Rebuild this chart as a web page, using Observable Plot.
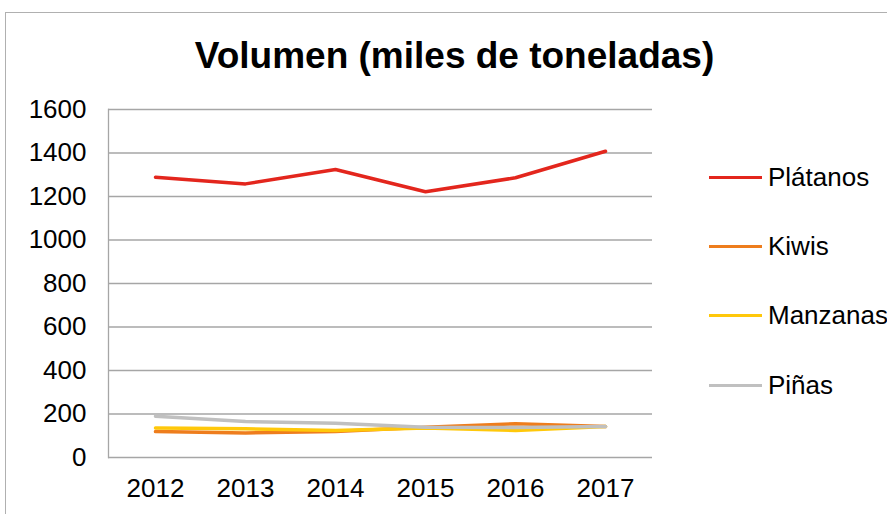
<!DOCTYPE html>
<html>
<head>
<meta charset="utf-8">
<script src="https://cdn.jsdelivr.net/npm/d3@7"></script>
<script src="https://cdn.jsdelivr.net/npm/@observablehq/plot@0.6"></script>
<style>
  html, body { margin: 0; padding: 0; background: #fff; }
  #wrap { position: relative; width: 887px; height: 514px; overflow: hidden; font-family: "Liberation Sans", Arial, sans-serif; }
  #border { position: absolute; left: 5px; top: 12px; width: 900px; height: 520px; border: 1px solid #b0b0b0; box-sizing: border-box; }
  #title { position: absolute; left: 0; top: 0; width: 909px; height: 90px; text-align: center; font-weight: bold; font-size: 37px; line-height: 37px; padding-top: 37px; box-sizing: border-box; color: #000; }
  #chart { position: absolute; left: 0; top: 90px; }
  #legend { position: absolute; left: 709px; top: 0; }
  .item { position: absolute; left: 0; height: 30px; width: 200px; }
  .swatch { position: absolute; left: 0; top: 14px; width: 53px; height: 3px; }
  .lab { position: absolute; left: 59px; top: 0; font-size: 26px; line-height: 30px; color: #000; white-space: nowrap; }
</style>
</head>
<body>
<div id="wrap">
  <div id="border"></div>
  <div id="title">Volumen (miles de toneladas)</div>
  <div id="chart"></div>
  <div id="legend"></div>
</div>
<script>
const years = ["2012", "2013", "2014", "2015", "2016", "2017"];
const seriesNames = ["Plátanos", "Kiwis", "Manzanas", "Piñas"];
const platanos = [1289, 1258, 1324, 1222, 1286, 1408];
const kiwis = [119, 113, 119, 139, 155, 142];
const manzanas = [136, 132, 124, 136, 124, 142];
const pinas = [190, 165, 158, 139, 138, 142];
const seriesColors = ["#e3261d", "#ee7d1d", "#ffc80a", "#c0c0c0"];
const yTicks = [0, 200, 400, 600, 800, 1000, 1200, 1400, 1600];

const allValues = [platanos, kiwis, manzanas, pinas];
const data = [];
seriesNames.forEach((s, i) => years.forEach((y, j) => data.push({series: s, year: y, value: allValues[i][j]})));

const chart = Plot.plot({
  width: 887,
  height: 424,
  marginLeft: 108,
  marginRight: 235,
  marginTop: 19,
  marginBottom: 57,
  style: {fontFamily: "Liberation Sans, Arial, sans-serif", fontSize: "26px", color: "#000", background: "transparent"},
  x: {type: "point", domain: years, padding: 0.5, label: null},
  y: {domain: [0, 1600], label: null},
  color: {domain: seriesNames, range: seriesColors},
  marks: [
    Plot.gridY(yTicks, {stroke: "#a6a6a6", strokeOpacity: 1, strokeWidth: 1.3}),
    Plot.frame({anchor: "left", stroke: "#a6a6a6", strokeWidth: 1.3}),
    Plot.axisY(yTicks, {tickSize: 0, tickPadding: 22, fontSize: 26, label: null, tickFormat: d => String(d)}),
    Plot.axisX({tickSize: 0, tickPadding: 21, fontSize: 26, label: null}),
    Plot.line(data, {x: "year", y: "value", z: "series", stroke: "series", strokeWidth: 3.5, strokeLinejoin: "round", strokeLinecap: "round"})
  ]
});
document.getElementById("chart").appendChild(chart);

const legend = document.getElementById("legend");
const rowTops = [162, 231, 300, 370];
seriesNames.forEach((s, i) => {
  const it = document.createElement("div");
  it.className = "item";
  it.style.top = rowTops[i] + "px";
  it.innerHTML = `<div class="swatch" style="background:${seriesColors[i]}"></div><div class="lab">${s}</div>`;
  legend.appendChild(it);
});
</script>
</body>
</html>
